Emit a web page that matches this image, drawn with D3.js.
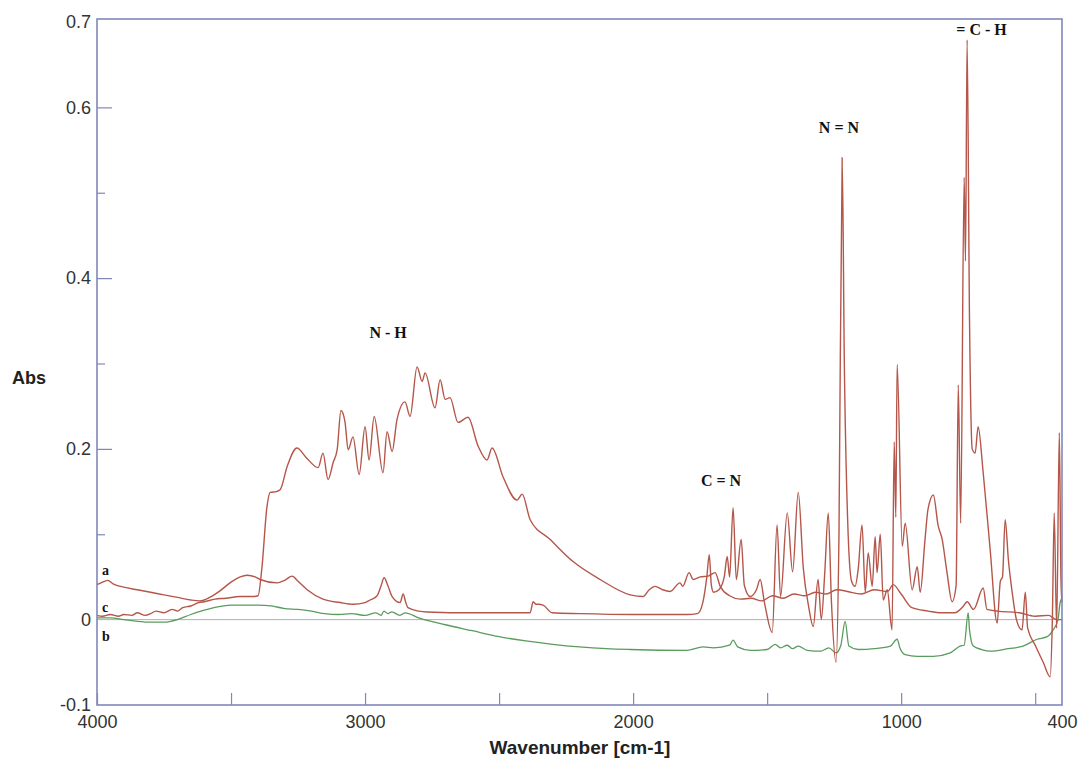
<!DOCTYPE html>
<html><head><meta charset="utf-8">
<script src="https://cdn.jsdelivr.net/npm/d3@7"></script>
<style>body{margin:0;background:#fff}</style>
</head><body>
<svg id="chart" width="1080" height="761"></svg>
<script>
// ---- data (wavenumber cm-1, absorbance) ----
const seriesA = [[4000,0.041],[3985,0.043],[3960,0.046],[3940,0.042],[3900,0.038],[3850,0.035],[3800,0.032],[3750,0.029],[3700,0.026],[3650,0.023],[3616,0.022],[3580,0.026],[3540,0.034],[3500,0.044],[3466,0.05],[3440,0.052],[3410,0.05],[3392,0.047],[3328,0.043],[3300,0.046],[3272,0.051],[3250,0.045],[3216,0.035],[3157,0.024],[3093,0.02],[3045,0.018],[3000,0.02],[2981,0.023],[2955,0.028],[2940,0.04],[2929,0.049],[2915,0.04],[2899,0.027],[2869,0.02],[2858,0.03],[2848,0.02],[2840,0.014],[2800,0.01],[2769,0.009],[2600,0.008],[2384,0.008],[2373,0.021],[2362,0.018],[2354,0.018],[2336,0.017],[2302,0.008],[2200,0.007],[2000,0.006],[1800,0.006],[1760,0.007],[1740,0.02],[1725,0.05],[1716,0.076],[1708,0.04],[1700,0.032],[1680,0.035],[1660,0.05],[1649,0.074],[1640,0.05],[1627,0.131],[1615,0.047],[1597,0.094],[1585,0.04],[1563,0.027],[1540,0.035],[1526,0.047],[1510,0.02],[1481,-0.015],[1463,0.111],[1450,0.027],[1425,0.125],[1405,0.056],[1384,0.149],[1365,0.06],[1345,0.015],[1328,-0.008],[1310,0.047],[1298,0.0],[1285,0.055],[1272,0.125],[1260,0.02],[1243,-0.05],[1232,0.1],[1220,0.541],[1212,0.3],[1200,0.12],[1185,0.045],[1172,0.039],[1160,0.06],[1146,0.111],[1134,0.032],[1123,0.078],[1108,0.039],[1097,0.097],[1090,0.055],[1078,0.1],[1067,0.023],[1052,0.035],[1034,-0.012],[1026,0.208],[1020,0.12],[1015,0.299],[996,0.086],[985,0.113],[959,0.035],[940,0.062],[929,0.032],[911,0.094],[900,0.129],[880,0.146],[862,0.11],[847,0.094],[829,0.055],[810,0.021],[795,0.04],[787,0.275],[778,0.113],[765,0.518],[760,0.42],[754,0.679],[745,0.35],[735,0.2],[724,0.195],[713,0.226],[694,0.172],[668,0.082],[642,-0.004],[630,0.045],[622,0.05],[612,0.117],[600,0.07],[585,0.03],[570,0.0],[549,-0.012],[537,0.032],[528,-0.01],[500,-0.03],[470,-0.05],[444,-0.067],[436,0.0],[429,0.125],[420,-0.01],[410,0.219],[404,0.05],[400,0.02]];

const seriesB = [[4000,0.002],[3950,0.002],[3900,0.0],[3850,-0.002],[3800,-0.003],[3750,-0.003],[3700,0.0],[3650,0.006],[3600,0.011],[3550,0.015],[3500,0.017],[3450,0.017],[3400,0.017],[3350,0.016],[3300,0.013],[3250,0.012],[3200,0.01],[3150,0.007],[3100,0.006],[3050,0.007],[3000,0.005],[2960,0.008],[2940,0.005],[2930,0.01],[2915,0.007],[2900,0.009],[2870,0.005],[2850,0.008],[2800,0.002],[2700,-0.006],[2600,-0.013],[2500,-0.02],[2400,-0.025],[2300,-0.029],[2200,-0.032],[2100,-0.034],[2011,-0.035],[1800,-0.036],[1739,-0.032],[1700,-0.033],[1640,-0.03],[1627,-0.024],[1610,-0.032],[1563,-0.036],[1500,-0.035],[1470,-0.029],[1450,-0.033],[1425,-0.03],[1405,-0.034],[1384,-0.031],[1350,-0.036],[1300,-0.037],[1270,-0.033],[1243,-0.039],[1225,-0.03],[1209,-0.002],[1195,-0.031],[1160,-0.035],[1100,-0.034],[1040,-0.031],[1015,-0.023],[1005,-0.033],[985,-0.041],[940,-0.043],[880,-0.043],[817,-0.039],[780,-0.031],[765,-0.03],[750,0.008],[745,-0.012],[731,-0.031],[700,-0.035],[668,-0.037],[600,-0.034],[545,-0.031],[493,-0.023],[455,-0.02],[433,-0.012],[415,0.0],[407,0.02],[400,0.025]];

const seriesC = [[4000,0.005],[3980,0.004],[3950,0.006],[3920,0.004],[3900,0.006],[3870,0.005],[3850,0.008],[3820,0.005],[3800,0.007],[3780,0.01],[3750,0.008],[3720,0.012],[3700,0.01],[3680,0.014],[3650,0.016],[3620,0.02],[3600,0.021],[3560,0.024],[3520,0.025],[3466,0.027],[3420,0.027],[3399,0.028],[3385,0.06],[3366,0.132],[3354,0.149],[3330,0.15],[3317,0.152],[3290,0.18],[3254,0.201],[3220,0.19],[3175,0.178],[3157,0.195],[3138,0.164],[3119,0.184],[3104,0.199],[3090,0.245],[3075,0.232],[3063,0.199],[3045,0.214],[3022,0.17],[3000,0.226],[2985,0.187],[2966,0.238],[2933,0.172],[2918,0.22],[2899,0.197],[2881,0.234],[2851,0.255],[2832,0.238],[2806,0.296],[2787,0.279],[2776,0.289],[2739,0.248],[2720,0.281],[2701,0.258],[2683,0.26],[2653,0.231],[2616,0.237],[2578,0.203],[2545,0.187],[2526,0.201],[2485,0.167],[2433,0.14],[2414,0.147],[2384,0.117],[2310,0.094],[2224,0.068],[2123,0.047],[2011,0.029],[1963,0.027],[1940,0.035],[1918,0.039],[1890,0.035],[1862,0.033],[1825,0.043],[1815,0.039],[1791,0.055],[1776,0.047],[1750,0.05],[1720,0.051],[1694,0.055],[1675,0.039],[1640,0.028],[1600,0.024],[1560,0.025],[1520,0.022],[1480,0.028],[1440,0.025],[1400,0.03],[1360,0.028],[1320,0.032],[1280,0.03],[1240,0.035],[1200,0.033],[1150,0.03],[1100,0.035],[1050,0.033],[1030,0.041],[1000,0.03],[960,0.014],[900,0.01],[850,0.008],[800,0.008],[770,0.015],[754,0.021],[730,0.012],[694,0.037],[680,0.012],[640,0.01],[560,0.008],[500,0.004],[450,0.005],[420,0.0],[400,0.0]];

const xTickMarks = [4000,3500,3000,2500,2000,1500,1000,500];
const xTickLabels = [4000,3000,2000,1000,400];
const yMajorTicks = [0.6,0.4,0.2];
const yMinorTicks = [0.5,0.3,0.1];
const yTickLabels = [0.7,0.6,0.4,0.2,0,-0.1];
const annotations = [
  {text:"N - H", w:2914, v:0.33},
  {text:"C = N", w:1672, v:0.156},
  {text:"N = N", w:1232, v:0.57},
  {text:"= C - H", w:700, v:0.685}
];
const curveLabels = [{text:"a", v:0.052},{text:"c", v:0.009},{text:"b", v:-0.025}];

// ---- drawing ----
const svg = d3.select("#chart");
const x = d3.scaleLinear().domain([4000,400]).range([97,1062]);
const y = d3.scaleLinear().domain([-0.1,0.7]).range([705,22]);
const frame = "#8088b8";

// zero line
svg.append("line").attr("x1",x(4000)).attr("x2",x(400)).attr("y1",y(0)).attr("y2",y(0))
  .attr("stroke","#b0b0b0").attr("stroke-width",1);

const line = d3.line().x(d=>x(d[0])).y(d=>y(d[1])).curve(d3.curveMonotoneX);
const asc = s => s.slice().sort((a,b)=>a[0]-b[0]);
const red = "#b5564a";
svg.append("path").datum(asc(seriesC)).attr("d",line).attr("fill","none").attr("stroke",red).attr("stroke-width",1.4);
svg.append("path").datum(asc(seriesB)).attr("d",line).attr("fill","none").attr("stroke","#5a9b5e").attr("stroke-width",1.3);
svg.append("path").datum(asc(seriesA)).attr("d",line).attr("fill","none").attr("stroke",red).attr("stroke-width",1.4);

// frame
svg.append("rect").attr("x",x(4000)).attr("y",19).attr("width",x(400)-x(4000)).attr("height",y(-0.1)-19)
  .attr("fill","none").attr("stroke",frame).attr("stroke-width",1.6);

// x ticks (inside)
const gx = svg.append("g").attr("transform",`translate(0,${y(-0.1)})`)
  .call(d3.axisBottom(x).tickValues(xTickMarks).tickSize(-12).tickFormat(""));
gx.select(".domain").remove();
gx.selectAll("line").attr("stroke",frame).attr("stroke-width",1.2);
const gxl = svg.append("g").attr("transform",`translate(0,${y(-0.1)})`)
  .call(d3.axisBottom(x).tickValues(xTickLabels).tickSize(0).tickPadding(10).tickFormat(d3.format("d")));
gxl.select(".domain").remove();
gxl.selectAll("text").attr("font-family","Liberation Sans, Arial, sans-serif").attr("font-size",18).attr("fill","#333");

// y ticks
const gy = svg.append("g").attr("transform",`translate(${x(4000)},0)`)
  .call(d3.axisLeft(y).tickValues(yMajorTicks).tickSize(-15).tickFormat(""));
gy.select(".domain").remove();
gy.selectAll("line").attr("stroke",frame).attr("stroke-width",1.2);
const gy2 = svg.append("g").attr("transform",`translate(${x(4000)},0)`)
  .call(d3.axisLeft(y).tickValues(yMinorTicks).tickSize(-8).tickFormat(""));
gy2.select(".domain").remove();
gy2.selectAll("line").attr("stroke",frame).attr("stroke-width",1.2);
const gyl = svg.append("g").attr("transform",`translate(${x(4000)},0)`)
  .call(d3.axisLeft(y).tickValues(yTickLabels).tickSize(0).tickPadding(6)
    .tickFormat(d=>d===0?"0":(d<0?"-":"")+Math.abs(d).toFixed(1)));
gyl.select(".domain").remove();
gyl.selectAll("text").attr("font-family","Liberation Sans, Arial, sans-serif").attr("font-size",18).attr("fill","#333");

// axis titles
svg.append("text").attr("x",12).attr("y",384).text("Abs")
  .attr("font-family","Liberation Sans, Arial, sans-serif").attr("font-weight","bold").attr("font-size",18).attr("fill","#222");
svg.append("text").attr("x",580).attr("y",754).attr("text-anchor","middle").text("Wavenumber [cm-1]")
  .attr("font-family","Liberation Sans, Arial, sans-serif").attr("font-weight","bold").attr("font-size",19).attr("fill","#222");

// annotations
svg.selectAll(".ann").data(annotations).enter().append("text")
  .attr("x",d=>x(d.w)).attr("y",d=>y(d.v)).attr("text-anchor","middle").text(d=>d.text)
  .attr("font-family","Liberation Serif, Times New Roman, serif").attr("font-weight","bold").attr("font-size",16).attr("fill","#111");
svg.selectAll(".cl").data(curveLabels).enter().append("text")
  .attr("x",102).attr("y",d=>y(d.v)).text(d=>d.text)
  .attr("font-family","Liberation Serif, Times New Roman, serif").attr("font-weight","bold").attr("font-size",14).attr("fill","#111");
</script>
</body></html>
